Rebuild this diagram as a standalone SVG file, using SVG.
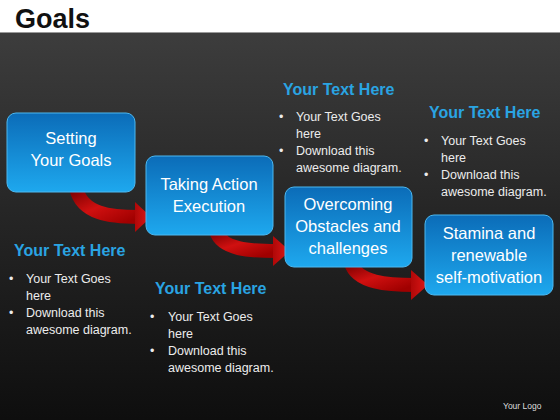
<svg xmlns="http://www.w3.org/2000/svg" width="560" height="420" viewBox="0 0 560 420">
<defs>
<linearGradient id="bg" x1="0" y1="0" x2="0" y2="1">
<stop offset="0" stop-color="#414141"/>
<stop offset="0.5" stop-color="#262626"/>
<stop offset="1" stop-color="#0e0e0e"/>
</linearGradient>
<linearGradient id="box" x1="0" y1="0" x2="0" y2="1">
<stop offset="0" stop-color="#0b6cb8"/>
<stop offset="1" stop-color="#1ea8ee"/>
</linearGradient>
<linearGradient id="red" x1="0" y1="0" x2="1" y2="1">
<stop offset="0" stop-color="#7a0000"/>
<stop offset="0.5" stop-color="#d01010"/>
<stop offset="1" stop-color="#a00000"/>
</linearGradient>
<linearGradient id="redh" x1="0" y1="0" x2="1" y2="0">
<stop offset="0" stop-color="#b00808"/>
<stop offset="1" stop-color="#e01818"/>
</linearGradient>
</defs>
<style>
.box{fill:url(#box);stroke:#4cb8f0;stroke-width:1}
.bt{font-family:"Liberation Sans",Arial,sans-serif;font-size:16.5px;fill:#ffffff;text-anchor:middle}
.hd{font-family:"Liberation Sans",Arial,sans-serif;font-size:16px;font-weight:bold;fill:#2aa4e2}
.tx{font-family:"Liberation Sans",Arial,sans-serif;font-size:12.5px;fill:#ececec}
.rib{fill:none;stroke:url(#red);stroke-width:14}
.head{fill:url(#redh)}
</style>
<rect x="0" y="0" width="560" height="420" fill="url(#bg)"/>
<rect x="0" y="0" width="560" height="32" fill="#ffffff"/>
<line x1="0" y1="32.5" x2="560" y2="32.5" stroke="#9a9a9a" stroke-width="1"/>
<text x="15" y="28" font-family="Liberation Sans,Arial,sans-serif" font-size="27" font-weight="bold" fill="#111111">Goals</text>

<g id="connectors">
<path class="rib" d="M 76 188 C 82 214, 110 217, 139 217"/>
<polygon class="head" points="135,202 151,217 135,232"/>
<path class="rib" d="M 216 231 C 222 250, 250 251, 277 251"/>
<polygon class="head" points="273,236 290,251 273,266"/>
<path class="rib" d="M 351 263 C 357 283, 388 285, 415 285"/>
<polygon class="head" points="411,270 428,285 411,300"/>
</g>

<g id="node1">
<rect class="box" x="7" y="113" width="128" height="79" rx="9"/>
<text class="bt" x="71" y="144">Setting</text>
<text class="bt" x="71" y="166">Your Goals</text>
</g>
<g id="node2">
<rect class="box" x="146" y="156" width="127" height="79" rx="9"/>
<text class="bt" x="209" y="190">Taking Action</text>
<text class="bt" x="209" y="212">Execution</text>
</g>
<g id="node3">
<rect class="box" x="285" y="187" width="127" height="80" rx="9"/>
<text class="bt" x="348" y="210">Overcoming</text>
<text class="bt" x="348" y="232">Obstacles and</text>
<text class="bt" x="348" y="254">challenges</text>
</g>
<g id="node4">
<rect class="box" x="425" y="215" width="128" height="80" rx="9"/>
<text class="bt" x="489" y="239">Stamina and</text>
<text class="bt" x="489" y="261">renewable</text>
<text class="bt" x="489" y="283">self-motivation</text>
</g>

<g id="text1">
<text class="hd" x="14" y="256">Your Text Here</text>
<text class="tx" x="9" y="283">•</text>
<text class="tx" x="26" y="283">Your Text Goes</text>
<text class="tx" x="26" y="300">here</text>
<text class="tx" x="9" y="317">•</text>
<text class="tx" x="26" y="317">Download this</text>
<text class="tx" x="26" y="334">awesome diagram.</text>
</g>
<g id="text2">
<text class="hd" x="155" y="294">Your Text Here</text>
<text class="tx" x="150" y="321">•</text>
<text class="tx" x="168" y="321">Your Text Goes</text>
<text class="tx" x="168" y="338">here</text>
<text class="tx" x="150" y="355">•</text>
<text class="tx" x="168" y="355">Download this</text>
<text class="tx" x="168" y="372">awesome diagram.</text>
</g>
<g id="text3">
<text class="hd" x="283" y="95">Your Text Here</text>
<text class="tx" x="279" y="121">•</text>
<text class="tx" x="296" y="121">Your Text Goes</text>
<text class="tx" x="296" y="138">here</text>
<text class="tx" x="279" y="155">•</text>
<text class="tx" x="296" y="155">Download this</text>
<text class="tx" x="296" y="172">awesome diagram.</text>
</g>
<g id="text4">
<text class="hd" x="429" y="118">Your Text Here</text>
<text class="tx" x="424" y="145">•</text>
<text class="tx" x="441" y="145">Your Text Goes</text>
<text class="tx" x="441" y="162">here</text>
<text class="tx" x="424" y="179">•</text>
<text class="tx" x="441" y="179">Download this</text>
<text class="tx" x="441" y="196">awesome diagram.</text>
</g>
<text x="503" y="409" font-family="Liberation Sans,Arial,sans-serif" font-size="8.5" fill="#dddddd">Your Logo</text>
</svg>
